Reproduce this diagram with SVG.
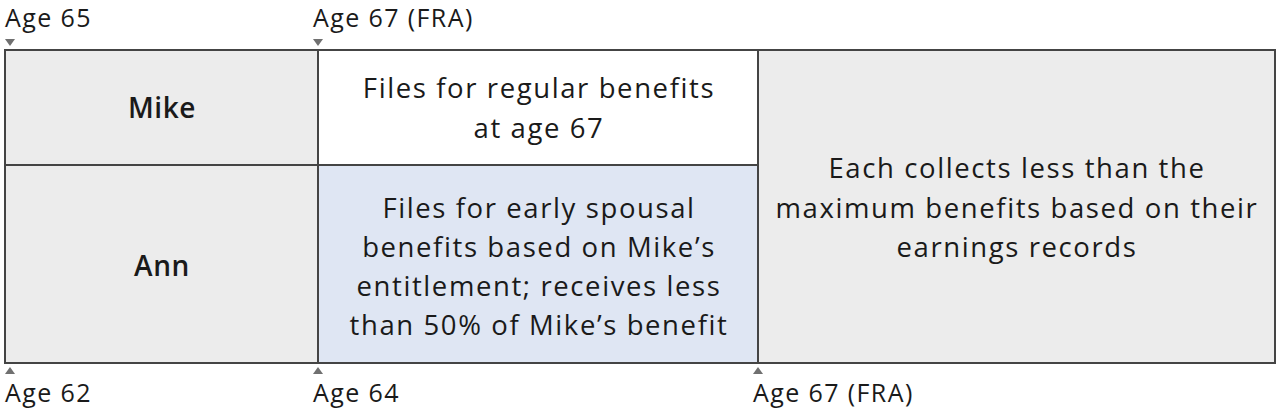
<svg xmlns="http://www.w3.org/2000/svg" width="1280" height="414" viewBox="0 0 1280 414">
<style>
text{font-family:"Open Sans","Noto Sans","Liberation Sans",sans-serif;fill:#1a1a1a}
.age{font-size:25px;letter-spacing:1.4px}
.cell{font-size:27.5px;letter-spacing:1.6px;text-anchor:middle}
.name{font-size:28px;font-weight:600;letter-spacing:0.6px;text-anchor:middle}
.ln{stroke:#444;stroke-width:2;fill:none}
.tri{fill:#707070}
</style>
<rect x="0" y="0" width="1280" height="414" fill="#fff"/>
<g id="mike">
<rect x="5" y="50" width="313" height="115" fill="#ececec"/>
<text class="name" x="162" y="118">Mike</text>
</g>
<g id="ann">
<rect x="5" y="165" width="313" height="198" fill="#ececec"/>
<text class="name" x="162" y="276">Ann</text>
</g>
<g id="mike-files">
<rect x="318" y="50" width="440" height="115" fill="#ffffff"/>
<text class="cell" x="539" y="98">Files for regular benefits</text>
<text class="cell" x="539" y="138">at age 67</text>
</g>
<g id="ann-files">
<rect x="318" y="165" width="440" height="198" fill="#dfe6f3"/>
<text class="cell" x="539" y="218">Files for early spousal</text>
<text class="cell" x="539" y="257">benefits based on Mike’s</text>
<text class="cell" x="539" y="296">entitlement; receives less</text>
<text class="cell" x="539" y="335">than 50% of Mike’s benefit</text>
</g>
<g id="each">
<rect x="758" y="50" width="517" height="313" fill="#ececec"/>
<text class="cell" x="1017" y="178">Each collects less than the</text>
<text class="cell" x="1017" y="218">maximum benefits based on their</text>
<text class="cell" x="1017" y="257">earnings records</text>
</g>
<g id="connectors">
<rect class="ln" x="5" y="50" width="1270" height="313"/>
<line class="ln" x1="318" y1="50" x2="318" y2="363"/>
<line class="ln" x1="758" y1="50" x2="758" y2="363"/>
<line class="ln" x1="5" y1="165" x2="758" y2="165"/>
</g>
<g id="markers">
<polygon class="tri" points="5,39 15,39 10,46"/>
<polygon class="tri" points="313,39 323,39 318,46"/>
<polygon class="tri" points="5,374 15,374 10,367"/>
<polygon class="tri" points="313,374 323,374 318,367"/>
<polygon class="tri" points="753,374 763,374 758,367"/>
</g>
<g id="labels">
<text class="age" x="5" y="27">Age 65</text>
<text class="age" x="313" y="27">Age 67 (FRA)</text>
<text class="age" x="5" y="402">Age 62</text>
<text class="age" x="313" y="402">Age 64</text>
<text class="age" x="753" y="402">Age 67 (FRA)</text>
</g>
</svg>
